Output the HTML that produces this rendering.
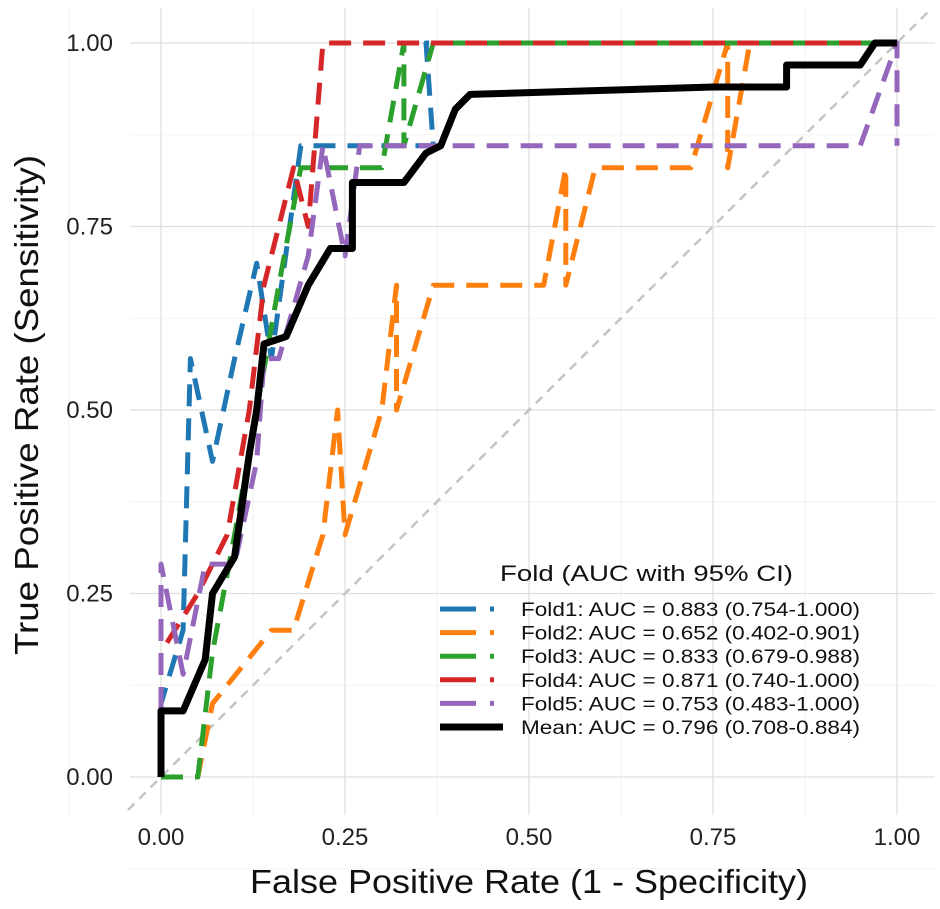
<!DOCTYPE html>
<html><head><meta charset="utf-8"><style>
body{margin:0;background:#fff;}
svg{display:block;font-family:"Liberation Sans",Arial,sans-serif;}
</style></head><body>
<svg id="chart" width="940" height="909">
<g id="grid"></g>
<line x1="128" y1="810" x2="932" y2="8" stroke="#c4c4c4" stroke-width="2.5" stroke-dasharray="9,7"/>
<g id="series"></g>
<g id="axes"></g>
<text x="529" y="893" font-size="33" text-anchor="middle" textLength="558" lengthAdjust="spacingAndGlyphs" fill="#111">False Positive Rate (1 - Specificity)</text>
<text transform="translate(38,405) rotate(-90)" font-size="33" text-anchor="middle" textLength="500" lengthAdjust="spacingAndGlyphs" fill="#111">True Positive Rate (Sensitivity)</text>
<g id="legend">
<text x="500" y="581" font-size="22" textLength="293" lengthAdjust="spacingAndGlyphs" fill="#111">Fold (AUC with 95% CI)</text>
</g>
</svg>
<script>
const xTicks=[0,0.25,0.5,0.75,1];
const yTicks=[0,0.25,0.5,0.75,1];
const tickLabels=["0.00","0.25","0.50","0.75","1.00"];
const seriesNames=["Fold1","Fold2","Fold3","Fold4","Fold5","Mean"];
const seriesColors=["#1f77b4","#ff7f0e","#2ca02c","#d62728","#9467bd","#000000"];
const legendLabels=["Fold1: AUC = 0.883 (0.754-1.000)","Fold2: AUC = 0.652 (0.402-0.901)","Fold3: AUC = 0.833 (0.679-0.988)","Fold4: AUC = 0.871 (0.740-1.000)","Fold5: AUC = 0.753 (0.483-1.000)","Mean: AUC = 0.796 (0.708-0.884)"];
const fold1Fpr=[0,0,0.03,0.04,0.07,0.1,0.13,0.15,0.19,0.23,0.37,0.36,0.41,1];
const fold1Tpr=[0,0.1,0.2,0.57,0.43,0.57,0.7,0.57,0.86,0.86,0.86,1,1,1];
const fold2Fpr=[0,0.05,0.07,0.15,0.18,0.22,0.24,0.25,0.3,0.32,0.32,0.37,0.52,0.55,0.55,0.59,0.72,0.77,0.77,0.8,1];
const fold2Tpr=[0,0,0.1,0.2,0.2,0.33,0.5,0.33,0.5,0.67,0.5,0.67,0.67,0.83,0.67,0.83,0.83,1,0.83,1,1];
const fold3Fpr=[0,0.05,0.07,0.1,0.13,0.16,0.19,0.23,0.3,0.33,0.33,0.37,1];
const fold3Tpr=[0,0,0.17,0.33,0.5,0.67,0.83,0.83,0.83,1,0.86,1,1];
const fold4Fpr=[0,0,0.05,0.09,0.12,0.14,0.18,0.2,0.22,1];
const fold4Tpr=[0,0.17,0.25,0.33,0.5,0.67,0.83,0.75,1,1];
const fold5Fpr=[0,0,0.03,0.06,0.1,0.13,0.14,0.16,0.2,0.22,0.25,0.27,0.95,1,1];
const fold5Tpr=[0,0.29,0.14,0.29,0.29,0.43,0.57,0.57,0.71,0.86,0.71,0.86,0.86,1,0.86];
const meanFpr=[0,0,0.03,0.06,0.07,0.1,0.12,0.13,0.14,0.17,0.2,0.23,0.26,0.26,0.33,0.36,0.38,0.4,0.42,0.75,0.85,0.85,0.95,0.97,1];
const meanTpr=[0,0.09,0.09,0.16,0.25,0.3,0.44,0.5,0.59,0.6,0.67,0.72,0.72,0.81,0.81,0.85,0.86,0.91,0.93,0.94,0.94,0.97,0.97,1,1];
const allFpr=[fold1Fpr,fold2Fpr,fold3Fpr,fold4Fpr,fold5Fpr,meanFpr];
const allTpr=[fold1Tpr,fold2Tpr,fold3Tpr,fold4Tpr,fold5Tpr,meanTpr];

const NS="http://www.w3.org/2000/svg";
const X0=161,X1=897,Y0=777,Y1=43;
const sx=v=>X0+(X1-X0)*v, sy=v=>Y0-(Y0-Y1)*v;
function mk(tag,attrs,parent){const e=document.createElementNS(NS,tag);for(const k in attrs)e.setAttribute(k,attrs[k]);parent.appendChild(e);return e;}
const grid=document.getElementById('grid');
for(let i=-1;i<=8;i++){
  const v=i*0.125;const major=(i%2===0);
  const gx=mk('line',{x1:sx(v),x2:sx(v),y1:8,y2:815,stroke:major?'#dedede':'#efefef','stroke-width':major?1.3:0.8},grid);
  
  
  const gy=mk('line',{x1:130,x2:935,y1:sy(v),y2:sy(v),stroke:major?'#dedede':'#efefef','stroke-width':major?1.3:0.8},grid);
  
  
}
const axes=document.getElementById('axes');
xTicks.forEach((v,i)=>{
  const t=mk('text',{x:sx(v),y:845,'font-size':24,'text-anchor':'middle',fill:'#222'},axes);
  t.textContent=tickLabels[i];
  
  
});
yTicks.forEach((v,i)=>{
  const t=mk('text',{x:113,y:sy(v)+8,'font-size':24,'text-anchor':'end',fill:'#222'},axes);
  t.textContent=tickLabels[i];
  
  
});
const ser=document.getElementById('series');
allFpr.forEach((fx,s)=>{
  const ty=allTpr[s];
  const pts=fx.map((v,i)=>sx(v).toFixed(1)+','+sy(ty[i]).toFixed(1)).join(' ');
  const isMean=s===5;
  const p=mk('polyline',{points:pts,fill:'none',stroke:seriesColors[s],'stroke-width':isMean?7:5,'stroke-dasharray':isMean?'none':'22,12','stroke-linejoin':'round'},ser);
  
  
});
const leg=document.getElementById('legend');
legendLabels.forEach((lab,i)=>{
  const y=609+i*23.6;const isMean=i===5;
  const l=mk('line',{x1:440,x2:503,y1:y,y2:y,stroke:seriesColors[i],'stroke-width':isMean?7:5,'stroke-dasharray':isMean?'none':'36,14,4,20'},leg);
  
  
  const t=mk('text',{x:521,y:y+7,'font-size':19,fill:'#111',textLength:339,lengthAdjust:'spacingAndGlyphs'},leg);
  t.textContent=lab;
  
  
});
</script>
</body></html>
